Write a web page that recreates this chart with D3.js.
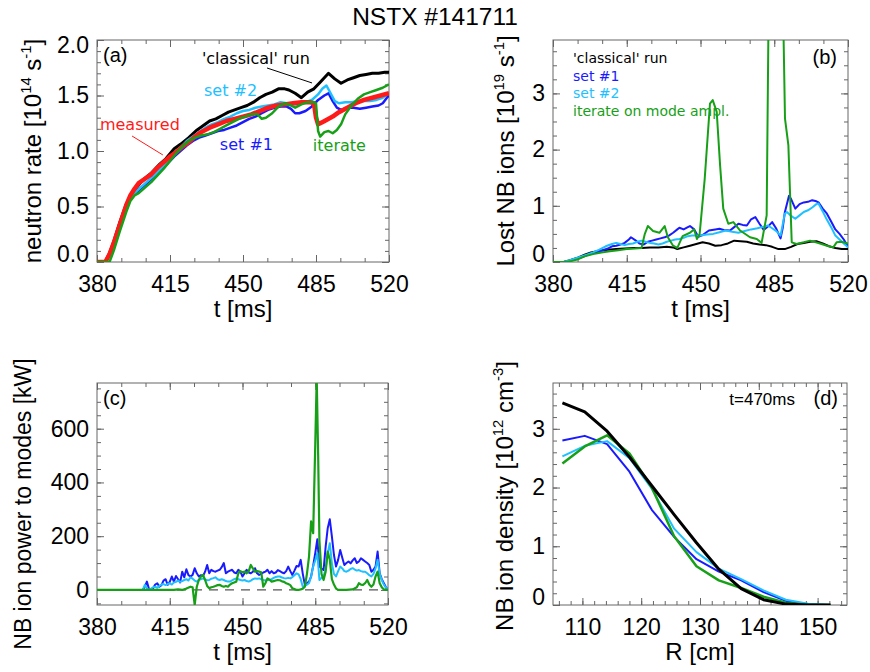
<!DOCTYPE html>
<html>
<head>
<meta charset="utf-8">
<script src="https://cdn.jsdelivr.net/npm/d3@7"></script>
<style>
  body { margin: 0; background: #fff; }
  svg { display: block; }
</style>
</head>
<body>
<div id="chart"></div>
<script>
// ---- data: [t (ms), value] pairs ----
const timeTicks = [380, 415, 450, 485, 520];

// (a) neutron rate [1e14 /s]
const neutronClassical = [[380,0],[384,0],[386,0.08],[388,0.18],[391,0.36],[394,0.52],[396,0.59],[399,0.67],[402,0.74],[406,0.80],[410,0.88],[413,0.93],[417,1.02],[420,1.06],[424,1.12],[428,1.19],[431,1.23],[434,1.27],[437,1.29],[440,1.32],[443,1.35],[446,1.37],[449,1.39],[452,1.41],[455,1.44],[458,1.48],[461,1.51],[464,1.53],[467,1.56],[470,1.56],[472,1.55],[475,1.52],[478,1.48],[481,1.53],[484,1.56],[487,1.62],[489,1.66],[491,1.70],[494,1.65],[497,1.61],[500,1.64],[503,1.66],[506,1.68],[509,1.69],[512,1.70],[515,1.70],[518,1.71],[520,1.71]];
const neutronSet1 = [[380,0],[384,0],[386,0.06],[388,0.16],[391,0.33],[394,0.49],[396,0.57],[399,0.63],[402,0.68],[405,0.73],[408,0.78],[411,0.84],[414,0.89],[417,0.95],[420,1.00],[423,1.05],[426,1.09],[429,1.12],[432,1.14],[435,1.16],[438,1.18],[441,1.19],[444,1.21],[447,1.23],[450,1.26],[453,1.29],[456,1.31],[459,1.34],[462,1.37],[465,1.39],[468,1.40],[471,1.40],[473,1.38],[475,1.34],[477,1.34],[480,1.36],[483,1.40],[486,1.46],[489,1.50],[491,1.52],[493,1.45],[495,1.39],[497,1.37],[500,1.39],[503,1.39],[506,1.38],[509,1.39],[512,1.40],[515,1.41],[517,1.43],[519,1.48],[520,1.50]];
const neutronSet2 = [[380,0],[384,0],[386,0.06],[388,0.16],[391,0.33],[394,0.49],[396,0.57],[399,0.64],[402,0.69],[405,0.74],[408,0.79],[411,0.85],[414,0.91],[417,0.97],[420,1.03],[423,1.09],[426,1.13],[429,1.17],[432,1.21],[435,1.24],[438,1.26],[441,1.29],[444,1.31],[447,1.34],[450,1.36],[453,1.37],[456,1.39],[459,1.40],[462,1.41],[465,1.42],[468,1.44],[471,1.43],[474,1.42],[477,1.42],[480,1.44],[483,1.46],[486,1.51],[488,1.56],[490,1.59],[492,1.52],[494,1.45],[496,1.43],[499,1.44],[502,1.44],[505,1.45],[508,1.45],[511,1.45],[514,1.46],[517,1.48],[520,1.52]];
const neutronMeasured = [[380,0],[384,0],[386,0.07],[388,0.17],[391,0.34],[394,0.51],[396,0.60],[398,0.66],[400,0.71],[403,0.75],[406,0.79],[409,0.85],[412,0.90],[415,0.95],[418,0.99],[421,1.04],[424,1.08],[427,1.13],[430,1.17],[434,1.21],[438,1.24],[442,1.27],[446,1.29],[450,1.31],[454,1.33],[458,1.36],[462,1.39],[466,1.41],[470,1.42],[474,1.43],[478,1.44],[482,1.44],[484,1.43],[485,1.30],[486,1.24],[488,1.26],[490,1.28],[493,1.31],[496,1.35],[500,1.39],[504,1.43],[508,1.46],[512,1.48],[516,1.50],[520,1.52]];
const neutronIterate = [[380,0],[386,0],[388,0.10],[391,0.28],[394,0.45],[396,0.55],[398,0.60],[400,0.62],[403,0.67],[406,0.72],[409,0.78],[412,0.84],[415,0.91],[418,0.98],[421,1.04],[424,1.09],[427,1.12],[430,1.14],[433,1.15],[436,1.17],[439,1.20],[442,1.23],[445,1.26],[448,1.29],[451,1.31],[454,1.33],[457,1.33],[459,1.29],[461,1.30],[464,1.34],[467,1.40],[470,1.43],[473,1.41],[475,1.39],[478,1.42],[481,1.44],[484,1.44],[485,1.43],[486,1.18],[487,1.13],[489,1.17],[491,1.18],[493,1.16],[495,1.19],[497,1.24],[499,1.33],[502,1.41],[505,1.47],[508,1.51],[511,1.53],[514,1.55],[517,1.57],[520,1.60]];

// (b) lost NB ions [1e19 /s]
const lostClassical = [[380,0],[385,0],[388,0.03],[392,0.08],[395,0.13],[398,0.17],[402,0.20],[406,0.22],[410,0.23],[414,0.24],[418,0.25],[422,0.25],[426,0.26],[430,0.26],[434,0.27],[437,0.26],[439,0.23],[442,0.26],[445,0.29],[448,0.32],[451,0.35],[454,0.33],[457,0.29],[460,0.30],[463,0.33],[466,0.38],[469,0.37],[472,0.36],[475,0.33],[478,0.31],[481,0.30],[484,0.27],[487,0.23],[490,0.23],[493,0.27],[496,0.32],[499,0.34],[502,0.36],[505,0.37],[508,0.33],[511,0.28],[514,0.25],[517,0.23],[520,0.23]];
const lostSet1 = [[380,0],[385,0],[388,0.02],[392,0.06],[396,0.12],[400,0.17],[403,0.20],[406,0.24],[408,0.28],[410,0.29],[412,0.31],[414,0.34],[416,0.40],[417,0.44],[419,0.39],[421,0.33],[423,0.31],[425,0.36],[427,0.38],[429,0.40],[431,0.42],[433,0.44],[435,0.47],[437,0.52],[439,0.58],[440,0.61],[442,0.58],[444,0.62],[445,0.64],[447,0.58],[449,0.45],[451,0.48],[454,0.56],[457,0.58],[459,0.59],[461,0.57],[464,0.56],[466,0.62],[468,0.68],[470,0.66],[472,0.65],[474,0.76],[476,0.80],[478,0.68],[480,0.57],[482,0.63],[484,0.71],[486,0.59],[488,0.42],[489,0.60],[490,0.88],[492,1.18],[493,1.12],[495,0.95],[497,1.03],[499,1.06],[501,1.07],[503,1.10],[505,1.08],[506,1.06],[508,0.95],[510,0.86],[512,0.72],[514,0.58],[516,0.50],[518,0.40],[520,0.28]];
const lostSet2 = [[380,0],[385,0],[388,0.03],[392,0.08],[396,0.13],[399,0.17],[402,0.22],[405,0.28],[408,0.32],[410,0.34],[412,0.32],[414,0.30],[416,0.32],[418,0.33],[420,0.36],[422,0.38],[424,0.36],[426,0.34],[428,0.33],[430,0.31],[432,0.33],[434,0.36],[436,0.38],[438,0.40],[440,0.41],[442,0.43],[444,0.46],[446,0.47],[448,0.47],[450,0.47],[453,0.49],[456,0.50],[459,0.53],[462,0.56],[465,0.54],[468,0.52],[471,0.55],[474,0.58],[477,0.60],[480,0.63],[482,0.65],[484,0.60],[486,0.55],[488,0.47],[490,0.86],[491,0.89],[493,0.82],[495,0.77],[497,0.83],[499,0.89],[501,0.92],[503,0.97],[505,1.03],[506,1.04],[508,0.90],[510,0.75],[512,0.62],[514,0.47],[516,0.40],[518,0.33],[520,0.26]];
const lostIterate = [[380,0],[386,0],[389,0.02],[392,0.05],[395,0.10],[399,0.14],[403,0.17],[407,0.19],[411,0.21],[415,0.23],[419,0.24],[422,0.25],[423.5,0.49],[425,0.64],[427.5,0.55],[430.5,0.52],[433,0.64],[434.5,0.44],[437,0.29],[439,0.25],[441.5,0.46],[445,0.52],[447,0.58],[448.3,0.41],[449.6,0.50],[452,1.48],[454.5,2.82],[455.8,2.88],[457.7,2.67],[459.3,1.72],[460.8,0.95],[463.2,0.68],[465.6,0.71],[468.8,0.56],[473.5,0.44],[476.7,0.41],[479,0.34],[481.4,0.83],[482.7,6.0],[488.5,6.0],[490.1,2.55],[491.7,2.08],[493.3,0.35],[495.6,0.32],[499,0.35],[502,0.38],[506.7,0.33],[510,0.29],[513,0.26],[514.6,0.35],[517,0.36],[520,0.33]];

// (c) NB ion power to modes [kW]
const powerSet1 = [[380,0],[402,0],[403,12],[404,31],[405,4],[406,0],[407,6],[408,20],[409,25],[410,12],[411,18],[412,35],[413,40],[414,19],[415,30],[416,50],[417,31],[418,52],[419,40],[420,28],[421,68],[422,47],[423,77],[424,55],[425,50],[426,56],[427,81],[428,62],[429,50],[430,55],[431,52],[432,68],[433,93],[434,62],[435,75],[436,70],[437,68],[438,72],[439,75],[440,85],[441,100],[442,62],[443,68],[444,72],[445,75],[446,65],[447,62],[448,75],[449,68],[450,50],[451,62],[452,75],[453,65],[454,62],[455,68],[456,81],[457,62],[458,56],[459,60],[460,65],[461,68],[462,75],[463,62],[464,70],[465,62],[466,65],[467,74],[468,70],[469,65],[470,62],[471,70],[472,87],[473,70],[474,56],[475,72],[476,89],[477,87],[478,112],[479,60],[480,19],[481,25],[482,31],[483,50],[484,90],[485,137],[486,189],[487,87],[488,80],[489,74],[490,161],[491,230],[492,263],[493,199],[494,130],[495,87],[496,112],[497,149],[498,120],[499,93],[500,100],[501,106],[502,99],[503,110],[504,118],[505,100],[506,106],[507,118],[508,112],[509,106],[510,100],[511,93],[512,68],[513,75],[514,87],[515,143],[516,62],[517,40],[518,25],[519,10],[520,0]];
const powerSet2 = [[380,0],[402,0],[403,19],[404,5],[405,0],[406,5],[407,10],[408,12],[409,8],[410,15],[411,20],[412,22],[413,18],[414,22],[415,25],[416,20],[417,28],[418,30],[419,35],[420,30],[421,33],[422,37],[423,40],[424,35],[425,47],[426,42],[427,35],[428,31],[429,38],[430,40],[431,43],[432,39],[433,36],[434,37],[435,42],[436,44],[437,47],[438,40],[439,37],[440,40],[441,37],[442,33],[443,31],[444,31],[445,36],[446,40],[447,43],[448,40],[449,37],[450,35],[451,37],[452,33],[453,31],[454,35],[455,40],[456,43],[457,42],[458,43],[459,40],[460,37],[461,35],[462,38],[463,37],[464,40],[465,45],[466,48],[467,50],[468,50],[469,46],[470,44],[471,43],[472,45],[473,43],[474,48],[475,55],[476,62],[477,58],[478,40],[479,12],[480,15],[481,20],[482,25],[483,50],[484,87],[485,110],[486,137],[487,37],[488,45],[489,50],[490,80],[491,137],[492,174],[493,99],[494,60],[495,50],[496,70],[497,87],[498,80],[499,70],[500,68],[501,72],[502,78],[503,81],[504,76],[505,72],[506,74],[507,70],[508,68],[509,68],[510,62],[511,55],[512,50],[513,60],[514,80],[515,112],[516,60],[517,37],[518,20],[519,8],[520,0]];
const powerIterate = [[380,0],[417,0],[419,2],[421,0],[423,5],[425,12],[426,10],[427,-56],[428,12],[429,37],[430,50],[431,56],[432,37],[433,15],[434,6],[435,10],[436,12],[437,15],[438,18],[439,19],[440,15],[441,12],[442,15],[443,12],[444,20],[445,25],[446,28],[447,31],[448,62],[449,70],[450,66],[451,68],[452,62],[453,70],[454,93],[455,80],[456,68],[457,70],[458,68],[459,66],[460,12],[461,25],[462,43],[463,38],[464,31],[465,33],[466,35],[467,37],[468,36],[469,32],[470,30],[471,25],[472,22],[473,18],[474,6],[475,3],[476,0],[477,0],[478,2],[479,5],[480,12],[481,60],[482,124],[483,255],[484,211],[485,540],[485.7,790],[486.4,500],[487,186],[488,60],[489,37],[490,68],[491,143],[492,112],[493,40],[494,20],[495,5],[496,0],[500,0],[503,2],[505,10],[506,25],[507,20],[508,19],[509,25],[510,37],[511,20],[512,12],[513,20],[514,50],[515,68],[516,25],[517,10],[518,2],[520,0]];

// (d) NB ion density profile at t=470ms [1e12 cm^-3]
const radiusCm = [106.6, 110.4, 114.2, 118.0, 121.8, 125.6, 129.4, 133.2, 137.0, 140.8, 144.6, 148.4, 152.2];
const densClassical = [3.44, 3.29, 2.96, 2.52, 2.03, 1.54, 1.06, 0.61, 0.28, 0.09, 0.015, 0.0, 0.0];
const densSet1 = [2.80, 2.88, 2.74, 2.27, 1.62, 1.16, 0.78, 0.57, 0.42, 0.22, 0.07, 0.01, 0.0];
const densSet2 = [2.53, 2.71, 2.79, 2.50, 1.98, 1.30, 0.90, 0.62, 0.44, 0.25, 0.09, 0.02, 0.0];
const densIterate = [2.41, 2.70, 2.89, 2.58, 2.00, 1.17, 0.66, 0.42, 0.29, 0.14, 0.04, 0.0, 0.0];

// ---- drawing ----
const W = 870, H = 672;
const col = { classical: '#000000', set1: '#1a1aff', set2: '#1ec0ff', iterate: '#17a017', measured: '#ff1a1a' };
const tickFont = 'Liberation Sans, Arial, sans-serif';
const noteFont = 'DejaVu Sans, sans-serif';

const svg = d3.select('#chart').append('svg')
  .attr('width', W).attr('height', H)
  .style('background', '#fff');

svg.append('text')
  .attr('x', 435).attr('y', 25)
  .attr('text-anchor', 'middle')
  .attr('font-family', tickFont).attr('font-size', 24.5)
  .text('NSTX #141711');

// text with superscripts: parts = [[str, isSup], ...]
function richText(sel, parts, size) {
  let sup = false;
  parts.forEach(([s, isSup]) => {
    const ts = sel.append('tspan').text(s).attr('font-size', isSup ? size * 0.62 : size);
    if (isSup && !sup) ts.attr('dy', -size * 0.42);
    if (!isSup && sup) ts.attr('dy', size * 0.42);
    sup = isSup;
  });
  return sel;
}

function makePanel(p) {
  const g = svg.append('g');
  const x = d3.scaleLinear().domain(p.xDomain).range([p.x0, p.x1]);
  const y = d3.scaleLinear().domain(p.yDomain).range([p.y1, p.y0]);

  const clipId = 'clip-' + p.id;
  svg.append('clipPath').attr('id', clipId)
    .append('rect').attr('x', p.x0).attr('y', p.y0)
    .attr('width', p.x1 - p.x0).attr('height', p.y1 - p.y0);

  // minor + major ticks on all four sides, pointing inward
  const sides = [
    [() => d3.axisBottom(x), `translate(0,${p.y1})`, p.xMinor, p.xMajor, true, true],
    [() => d3.axisTop(x), `translate(0,${p.y0})`, p.xMinor, p.xMajor, false, true],
    [() => d3.axisLeft(y), `translate(${p.x0},0)`, p.yMinor, p.yMajor, true, false],
    [() => d3.axisRight(y), `translate(${p.x1},0)`, p.yMinor, p.yMajor, false, false]
  ];
  sides.forEach(([mk, tr, minor, major, labelled, isX]) => {
    g.append('g').attr('transform', tr)
      .call(mk().tickValues(minor).tickSize(-4).tickFormat(''))
      .call(s => s.select('.domain').remove())
      .call(s => s.selectAll('line').attr('stroke', '#666'));
    const mg = g.append('g').attr('transform', tr)
      .call(mk().tickValues(major).tickSize(-7)
        .tickPadding(isX ? 14 : 8)
        .tickFormat(labelled ? (isX ? p.xFmt : p.yFmt) : ''))
      .call(s => s.select('.domain').remove())
      .call(s => s.selectAll('line').attr('stroke', '#666'));
    mg.selectAll('text')
      .attr('font-family', tickFont).attr('font-size', 23).attr('fill', '#000');
    if (!isX && labelled) {
      // keep end labels inside the box like the original
      mg.selectAll('.tick text').attr('y', d => {
        if (Math.abs(y(d) - p.y1) < 3) return -8;
        if (Math.abs(y(d) - p.y0) < 3) return 5;
        return 0;
      });
    }
  });

  g.append('rect')
    .attr('x', p.x0).attr('y', p.y0)
    .attr('width', p.x1 - p.x0).attr('height', p.y1 - p.y0)
    .attr('fill', 'none').attr('stroke', '#666').attr('stroke-width', 1);

  // axis titles
  richText(g.append('text')
    .attr('x', (p.x0 + p.x1) / 2).attr('y', p.y1 + 55)
    .attr('text-anchor', 'middle').attr('font-family', tickFont), p.xTitle, 24);
  richText(g.append('text')
    .attr('transform', `translate(${p.yTitleX},${p.yTitleY}) rotate(-90)`)
    .attr('text-anchor', 'middle').attr('font-family', tickFont), p.yTitle, p.yTitleSize || 24);

  const plot = g.append('g').attr('clip-path', `url(#${clipId})`);
  return { g, x, y, plot };
}

function drawLine(pn, data, color, width) {
  const line = d3.line().x(d => pn.x(d[0])).y(d => pn.y(d[1]));
  pn.plot.append('path').datum(data)
    .attr('d', line)
    .attr('fill', 'none').attr('stroke', color)
    .attr('stroke-width', width)
    .attr('stroke-linejoin', 'round');
}

const timeMinor = d3.range(380, 520.01, 35 / 3);
const f1 = d3.format('.1f'), f0 = d3.format('d');

// ---------- (a) ----------
const pa = makePanel({
  id: 'a', x0: 97, x1: 389, y0: 40, y1: 262,
  xDomain: [380, 520], yDomain: [0, 2.0],
  xMajor: timeTicks, xMinor: timeMinor, xFmt: f0,
  yMajor: [0, 0.5, 1.0, 1.5, 2.0], yMinor: d3.range(0, 2.001, 0.1), yFmt: f1,
  xTitle: [['t [ms]', false]],
  yTitle: [['neutron rate [10', false], ['14', true], [' s', false], ['-1', true], [']', false]],
  yTitleX: 41, yTitleY: 151
});
drawLine(pa, neutronClassical, col.classical, 3);
drawLine(pa, neutronSet1, col.set1, 2.5);
drawLine(pa, neutronSet2, col.set2, 2.5);
drawLine(pa, neutronMeasured, col.measured, 4.5);
drawLine(pa, neutronIterate, col.iterate, 2.5);

function note(pn, t, v, text, color, size) {
  pn.g.append('text')
    .attr('x', pn.x(t)).attr('y', pn.y(v))
    .attr('font-family', noteFont).attr('font-size', size || 16)
    .attr('fill', color).text(text);
}
function leader(pn, t1, v1, t2, v2, color) {
  pn.g.append('line')
    .attr('x1', pn.x(t1)).attr('y1', pn.y(v1))
    .attr('x2', pn.x(t2)).attr('y2', pn.y(v2))
    .attr('stroke', color).attr('stroke-width', 1);
}
pa.g.append('text').attr('x', 103).attr('y', 62)
  .attr('font-family', tickFont).attr('font-size', 20).text('(a)');
note(pa, 430.3, 1.784, "'classical' run", '#000');
leader(pa, 461.5, 1.748, 483.1, 1.613, '#000');
note(pa, 431.3, 1.495, 'set #2', col.set2);
note(pa, 381.4, 1.189, 'measured', col.measured);
leader(pa, 396.8, 1.135, 411.6, 0.964, col.measured);
note(pa, 438.9, 1.009, 'set #1', col.set1);
note(pa, 483.5, 1.0, 'iterate', col.iterate);

// ---------- (b) ----------
const pb = makePanel({
  id: 'b', x0: 553, x1: 848, y0: 40, y1: 262,
  xDomain: [380, 520], yDomain: [0, 3.95],
  xMajor: timeTicks, xMinor: timeMinor, xFmt: f0,
  yMajor: [0, 1, 2, 3], yMinor: d3.range(0, 3.951, 0.25), yFmt: f0,
  xTitle: [['t [ms]', false]],
  yTitle: [['Lost NB ions [10', false], ['19', true], [' s', false], ['-1', true], [']', false]],
  yTitleX: 514, yTitleY: 151
});
drawLine(pb, lostClassical, col.classical, 2);
drawLine(pb, lostSet1, col.set1, 2);
drawLine(pb, lostSet2, col.set2, 2);
drawLine(pb, lostIterate, col.iterate, 2);
pb.g.append('text').attr('x', 837).attr('y', 64).attr('text-anchor', 'end')
  .attr('font-family', tickFont).attr('font-size', 20).text('(b)');
const legendB = [["'classical' run", col.classical], ['set #1', col.set1], ['set #2', col.set2], ['iterate on mode ampl.', col.iterate]];
legendB.forEach(([label, c], i) => {
  pb.g.append('text').attr('x', 573).attr('y', 63 + i * 17.6)
    .attr('font-family', noteFont).attr('font-size', 14)
    .attr('fill', c).text(label);
});

// ---------- (c) ----------
const pc = makePanel({
  id: 'c', x0: 97, x1: 388, y0: 383, y1: 605,
  xDomain: [380, 520], yDomain: [-56, 770],
  xMajor: timeTicks, xMinor: timeMinor, xFmt: f0,
  yMajor: [0, 200, 400, 600], yMinor: d3.range(-50, 770, 50), yFmt: f0,
  xTitle: [['t [ms]', false]],
  yTitle: [['NB ion power to modes [kW]', false]],
  yTitleX: 31, yTitleY: 504, yTitleSize: 23
});
pc.plot.append('line')
  .attr('x1', pc.x(380)).attr('x2', pc.x(520))
  .attr('y1', pc.y(0)).attr('y2', pc.y(0))
  .attr('stroke', '#555').attr('stroke-width', 1.2)
  .attr('stroke-dasharray', '9,7');
drawLine(pc, powerSet1, col.set1, 2);
drawLine(pc, powerSet2, col.set2, 2);
drawLine(pc, powerIterate, col.iterate, 2.2);
pc.g.append('text').attr('x', 103).attr('y', 405)
  .attr('font-family', tickFont).attr('font-size', 20).text('(c)');

// ---------- (d) ----------
const pd = makePanel({
  id: 'd', x0: 553, x1: 847, y0: 383, y1: 605,
  xDomain: [105, 155], yDomain: [0, 3.78],
  xMajor: [110, 120, 130, 140, 150], xMinor: d3.range(106, 155, 2), xFmt: f0,
  yMajor: [0, 1, 2, 3], yMinor: d3.range(0, 3.78, 0.2), yFmt: f0,
  xTitle: [['R [cm]', false]],
  yTitle: [['NB ion density [10', false], ['12', true], [' cm', false], ['-3', true], [']', false]],
  yTitleX: 513, yTitleY: 496
});
const prof = vals => radiusCm.map((r, i) => [r, vals[i]]);
drawLine(pd, prof(densSet1), col.set1, 2);
drawLine(pd, prof(densSet2), col.set2, 2);
drawLine(pd, prof(densIterate), col.iterate, 2.5);
drawLine(pd, prof(densClassical), col.classical, 3);
pd.g.append('text').attr('x', 838).attr('y', 405).attr('text-anchor', 'end')
  .attr('font-family', tickFont).attr('font-size', 20).text('(d)');
pd.g.append('text').attr('x', 795).attr('y', 405).attr('text-anchor', 'end')
  .attr('font-family', tickFont).attr('font-size', 17).text('t=470ms');
</script>
</body>
</html>
